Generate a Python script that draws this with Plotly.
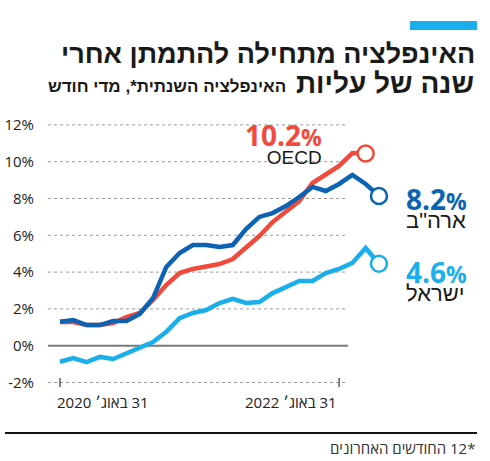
import plotly.graph_objects as go

# ---- data (annual inflation, %, monthly from Aug 2020) ----
months = ["2020-08", "2020-09", "2020-10", "2020-11", "2020-12", "2021-01", "2021-02",
          "2021-03", "2021-04", "2021-05", "2021-06", "2021-07", "2021-08", "2021-09",
          "2021-10", "2021-11", "2021-12", "2022-01", "2022-02", "2022-03", "2022-04",
          "2022-05", "2022-06", "2022-07", "2022-08"]
oecd = [1.29, 1.29, 1.12, 1.12, 1.23, 1.56, 1.78, 2.48, 3.3, 3.95, 4.17, 4.33, 4.44,
        4.71, 5.36, 5.96, 6.72, 7.32, 7.86, 8.84, 9.27, 9.77, 10.47, 10.45]
usa = [1.3, 1.4, 1.12, 1.12, 1.34, 1.34, 1.72, 2.59, 4.28, 5.04, 5.47, 5.47, 5.36,
       5.47, 6.34, 7.0, 7.21, 7.59, 8.08, 8.63, 8.41, 8.79, 9.28, 8.79, 8.14]
israel = [-0.87, -0.67, -0.89, -0.61, -0.72, -0.4, -0.07, 0.2, 0.75, 1.5, 1.78, 1.94,
          2.32, 2.54, 2.32, 2.37, 2.86, 3.19, 3.52, 3.52, 3.95, 4.17, 4.5, 5.31, 4.45]

y_ticks = [-2, 0, 2, 4, 6, 8, 10, 12]
x_tick_pos = [0, 21]
x_tick_text = ["31 באוג׳ 2020", "31 באוג׳ 2022"]

series_names = ["OECD", "ארה\"ב", "ישראל"]
series_values = [oecd, usa, israel]
series_labels = ["10.2", "8.2", "4.6"]
series_colors = ["#ef4a3b", "#0c63b3", "#1aaeea"]

RLE, PDF = "\u202B", "\u202C"
def rtl(s):
    return RLE + s + PDF

W, H = 490, 461
L = 40
def PX(px):
    return (px - L) / (W - L)
def PY(py):
    return 1 - py / H

fig = go.Figure()

# gridlines
for v in y_ticks:
    fig.add_shape(type="line", xref="x", yref="y", x0=-0.9, x1=21.67, y0=v, y1=v,
                  line=dict(color="#7a7a7a" if v == 0 else "#9a9a9a",
                            width=2 if v == 0 else 1,
                            dash="solid" if v == 0 else "dot"), layer="below")
# x ticks
for xp in x_tick_pos:
    fig.add_shape(type="line", xref="x", yref="y", x0=xp, x1=xp, y0=-1.75, y1=-2.25,
                  line=dict(color="#333", width=1.2))

for vals, col in zip(series_values, series_colors):
    xs = list(range(len(vals)))
    fig.add_trace(go.Scatter(x=xs, y=vals, mode="lines",
                             line=dict(color=col, width=4.5), hoverinfo="skip",
                             showlegend=False))
for vals, col in zip(series_values, series_colors):
    fig.add_trace(go.Scatter(x=[len(vals) - 1], y=[vals[-1]], mode="markers",
                             marker=dict(symbol="circle", size=16, color="white",
                                         line=dict(color=col, width=2.5)),
                             hoverinfo="skip", showlegend=False))

ann = []
# title bar
fig.add_shape(type="rect", xref="paper", yref="paper", x0=PX(410), x1=PX(477),
              y0=PY(30), y1=PY(21), fillcolor="#1aaeea", line=dict(width=0))
TF = "Liberation Sans, Arial, sans-serif"
ann.append(dict(text=rtl("האינפלציה מתחילה להתמתן אחרי"), x=PX(477), y=PY(54),
                xanchor="right", yanchor="middle",
                font=dict(family=TF, size=27, color="#1a1a1a", weight="bold")))
ann.append(dict(text=rtl("שנה של עליות"), x=PX(476), y=PY(84),
                xanchor="right", yanchor="middle",
                font=dict(family=TF, size=28, color="#1a1a1a", weight="bold")))
ann.append(dict(text=rtl("האינפלציה השנתית*, מדי חודש"), x=PX(288), y=PY(87),
                xanchor="right", yanchor="middle",
                font=dict(family=TF, size=17, color="#1a1a1a", weight="bold")))

# footer
fig.add_shape(type="line", xref="paper", yref="paper", x0=PX(5), x1=PX(477),
              y0=PY(433), y1=PY(433), line=dict(color="#111", width=2))
ann.append(dict(text=rtl("*12 החודשים האחרונים"), x=PX(477), y=PY(448),
                xanchor="right", yanchor="middle",
                font=dict(family="Open Sans, sans-serif", size=15, color="#333")))

# x tick labels
AF = "Open Sans, sans-serif"
ann.append(dict(text=rtl(x_tick_text[0]), x=PX(55), y=PY(402), xanchor="left",
                yanchor="middle", font=dict(family=AF, size=15, color="#222")))
ann.append(dict(text=rtl(x_tick_text[1]), x=PX(339), y=PY(402), xanchor="right",
                yanchor="middle", font=dict(family=AF, size=15, color="#222")))

# end labels (number + name in one block)
NF = "Open Sans, Roboto, sans-serif"
def block(label, name, color):
    nm = name if name == "OECD" else rtl(name)
    nsize = 19 if name == "OECD" else 22
    return (f"<b><span style='font-size:28px;color:{color}'>{label}</span>"
            f"<span style='font-size:23px;color:{color}'>%</span></b><br>"
            f"<span style='font-size:{nsize}px;font-family:Liberation Sans, Arial'>{nm}</span>")
ends = [(324, 141.5, "right"), (404, 206.5, "left"), (404, 279.5, "left")]
for (xp, yp, side), lab, name, col in zip(ends, series_labels, series_names, series_colors):
    ann.append(dict(text=block(lab, name, col), x=PX(xp), y=PY(yp), xanchor=side,
                    align=side, yanchor="middle",
                    font=dict(family=NF, size=14, color="#1a1a1a")))

for a in ann:
    a.update(xref="paper", yref="paper", showarrow=False)

px_per_x = 13.29
px_per_y = 18.4
zero_py = 345.7
x0_px = 60
fig.update_layout(
    width=W, height=H, margin=dict(l=L, r=0, t=0, b=0),
    paper_bgcolor="white", plot_bgcolor="white",
    annotations=ann,
    xaxis=dict(visible=False, range=[-(x0_px - L) / px_per_x, (W - x0_px) / px_per_x]),
    yaxis=dict(range=[-(H - zero_py) / px_per_y, zero_py / px_per_y],
               tickvals=y_ticks, ticktext=[f"{v}%" for v in y_ticks],
               showgrid=False, zeroline=False, ticks="", ticklabelstandoff=5,
               tickfont=dict(family="Open Sans, sans-serif", size=15, color="#222")),
)
fig.write_html("out.html", config={"displayModeBar": False},
               post_script="document.body.style.margin='0';")
